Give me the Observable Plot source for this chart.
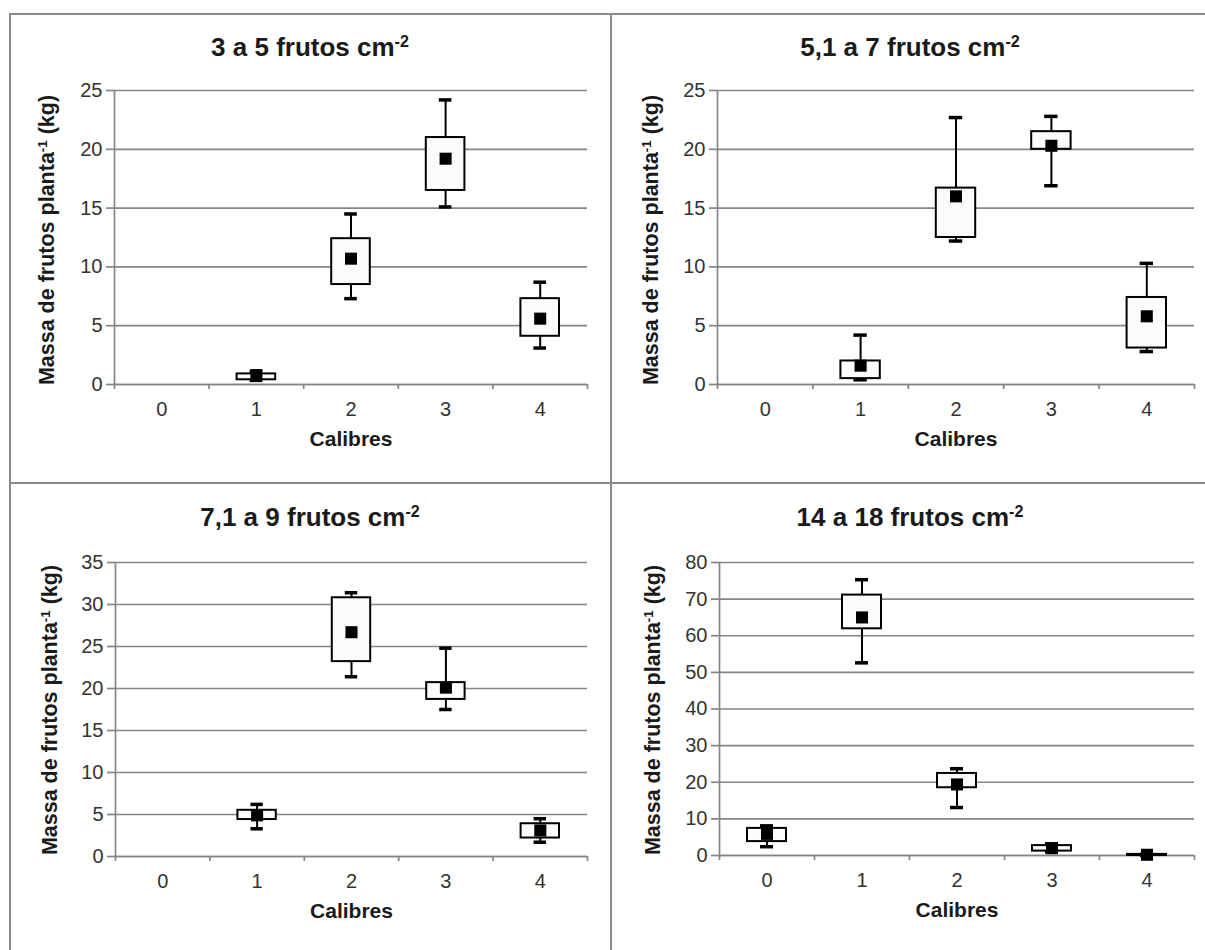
<!DOCTYPE html>
<html>
<head>
<meta charset="utf-8">
<script src="https://cdn.jsdelivr.net/npm/d3@7"></script>
<script src="https://cdn.jsdelivr.net/npm/@observablehq/plot@0.6"></script>
<style>
  html, body { margin: 0; padding: 0; background: #fff; }
  #wrap { position: relative; width: 1205px; height: 950px; overflow: hidden; font-family: "Liberation Sans", Arial, sans-serif; }
  .line { position: absolute; background: #8a8a8a; }
  .panel { position: absolute; }
  .title { position: absolute; font-weight: bold; font-size: 26px; line-height: 30px; color: #1a1a1a; white-space: nowrap; transform: translateX(-50%); }
  .title sup, .ylab sup { font-size: 0.62em; vertical-align: 0; position: relative; top: -0.55em; }
  .ylab { position: absolute; font-weight: bold; font-size: 21.5px; color: #1a1a1a; white-space: nowrap; transform: translate(-50%, -50%) rotate(-90deg); }
</style>
</head>
<body>
<div id="wrap"></div>
<script>
// ---- data ----
const calibres = [0, 1, 2, 3, 4];

const titles = ["3 a 5 frutos cm", "5,1 a 7 frutos cm", "7,1 a 9 frutos cm", "14 a 18 frutos cm"];
const titleExp = "-2";
const yLabel = "Massa de frutos planta";
const yLabelExp = "-1";
const yLabelUnit = " (kg)";
const xLabel = "Calibres";
const yMaxes = [25, 25, 35, 80];
const yStep = [5, 5, 5, 10];

// panel 1: 3 a 5 frutos
const p1Min  = [null, 0.35, 7.3, 15.1, 3.1];
const p1Q1   = [null, 0.4, 8.5, 16.5, 4.1];
const p1Q3   = [null, 0.9, 12.4, 21.0, 7.3];
const p1Max  = [null, 1.1, 14.5, 24.2, 8.7];
const p1Mean = [null, 0.8, 10.7, 19.2, 5.6];

// panel 2: 5,1 a 7 frutos
const p2Min  = [null, 0.4, 12.2, 16.9, 2.8];
const p2Q1   = [null, 0.5, 12.5, 20.0, 3.1];
const p2Q3   = [null, 2.0, 16.7, 21.5, 7.4];
const p2Max  = [null, 4.2, 22.7, 22.8, 10.3];
const p2Mean = [null, 1.6, 16.0, 20.3, 5.8];

// panel 3: 7,1 a 9 frutos
const p3Min  = [null, 3.3, 21.4, 17.5, 1.7];
const p3Q1   = [null, 4.4, 23.2, 18.7, 2.2];
const p3Q3   = [null, 5.5, 30.8, 20.7, 3.9];
const p3Max  = [null, 6.2, 31.4, 24.8, 4.5];
const p3Mean = [null, 4.9, 26.7, 20.1, 3.1];

// panel 4: 14 a 18 frutos
const p4Min  = [2.4, 52.6, 13.1, 1.0, 0.0];
const p4Q1   = [3.8, 61.9, 18.5, 1.2, 0.0];
const p4Q3   = [7.4, 71.1, 22.4, 2.7, 0.3];
const p4Max  = [8.1, 75.3, 23.7, 3.2, 0.3];
const p4Mean = [5.9, 65.0, 19.4, 2.0, 0.2];

const series = [
  [p1Min, p1Q1, p1Q3, p1Max, p1Mean],
  [p2Min, p2Q1, p2Q3, p2Max, p2Mean],
  [p3Min, p3Q1, p3Q3, p3Max, p3Mean],
  [p4Min, p4Q1, p4Q3, p4Max, p4Mean]
];

// ---- layout (pixels) ----
const layout = [
  {left: 10,  top: 14,  width: 600, height: 468, ml: 104, mr: 23, mt: 76, mb: 98, tx: 310, ty: 32, yx: 47, yy: 240},
  {left: 612, top: 14,  width: 593, height: 468, ml: 105, mr: 11, mt: 76, mb: 98, tx: 910, ty: 32, yx: 651, yy: 240},
  {left: 10,  top: 484, width: 600, height: 466, ml: 105, mr: 23, mt: 78, mb: 94, tx: 310, ty: 502, yx: 50, yy: 710},
  {left: 612, top: 484, width: 593, height: 466, ml: 107, mr: 11, mt: 78, mb: 95, tx: 910, ty: 502, yx: 653, yy: 710}
];

const wrap = document.getElementById("wrap");

function addLine(l, t, w, h) {
  const d = document.createElement("div");
  d.className = "line";
  Object.assign(d.style, {left: l + "px", top: t + "px", width: w + "px", height: h + "px"});
  wrap.appendChild(d);
}
addLine(9, 13, 1196, 2);
addLine(9, 13, 2, 937);
addLine(610, 13, 2, 937);
addLine(9, 482, 1196, 2);

const grey = "#858585";
const half = 0.5;

series.forEach((s, k) => {
  const [mn, q1, q3, mx, me] = s;
  const rows = calibres.map((c, i) => ({cal: c, min: mn[i], q1: q1[i], q3: q3[i], max: mx[i], mean: me[i]}))
    .filter(d => d.mean != null);
  const L = layout[k];
  const yTicks = d3.range(0, yMaxes[k] + 1e-9, yStep[k]);
  const bounds = [calibres[0] - half, ...calibres.map(c => c + half)];

  const chart = Plot.plot({
    width: L.width,
    height: L.height,
    marginLeft: L.ml,
    marginRight: L.mr,
    marginTop: L.mt,
    marginBottom: L.mb,
    style: {fontFamily: "Liberation Sans, Arial, sans-serif", fontSize: "20px", color: "#333", background: "transparent", overflow: "visible"},
    x: {domain: [bounds[0], bounds[bounds.length - 1]]},
    y: {domain: [0, yMaxes[k]]},
    marks: [
      Plot.gridY(yTicks, {stroke: grey, strokeOpacity: 1, strokeWidth: 1.7}),
      Plot.axisY(yTicks, {tickSize: 8, tickPadding: 4, stroke: grey, strokeWidth: 1.7, label: null, tickFormat: d3.format("d")}),
      Plot.ruleX([bounds[0]], {stroke: grey, strokeWidth: 1.7}),
      Plot.ruleY([0], {stroke: grey, strokeWidth: 1.7}),
      Plot.axisX(bounds, {tickSize: 5, tickFormat: () => "", stroke: grey, strokeWidth: 1.7, label: null}),
      Plot.axisX(calibres, {tickSize: 0, tickPadding: 17, label: null, tickFormat: d3.format("d")}),
      Plot.text([xLabel], {frameAnchor: "bottom", dy: 61, fontWeight: "bold", fill: "#1a1a1a", fontSize: 21}),
      // whiskers
      Plot.ruleX(rows, {x: "cal", y1: "min", y2: "q1", stroke: "#000", strokeWidth: 2}),
      Plot.ruleX(rows, {x: "cal", y1: "q3", y2: "max", stroke: "#000", strokeWidth: 2}),
      // boxes
      Plot.rectY(rows, {x1: d => d.cal - half, x2: d => d.cal + half, y1: "q1", y2: "q3", insetLeft: 28, insetRight: 28, fill: "#fbfbfb", stroke: "#000", strokeWidth: 2}),
      // caps
      Plot.ruleY(rows, {y: "min", x1: d => d.cal - half, x2: d => d.cal + half, insetLeft: 41, insetRight: 41, stroke: "#000", strokeWidth: 3.5}),
      Plot.ruleY(rows, {y: "max", x1: d => d.cal - half, x2: d => d.cal + half, insetLeft: 41, insetRight: 41, stroke: "#000", strokeWidth: 3.5}),
      // means
      Plot.dot(rows, {x: "cal", y: "mean", symbol: "square", r: 6.8, fill: "#000", stroke: "none"})
    ]
  });
  const holder = document.createElement("div");
  holder.className = "panel";
  Object.assign(holder.style, {left: L.left + "px", top: L.top + "px"});
  holder.appendChild(chart);
  wrap.appendChild(holder);

  const t = document.createElement("div");
  t.className = "title";
  Object.assign(t.style, {left: L.tx + "px", top: L.ty + "px"});
  t.innerHTML = titles[k] + "<sup>" + titleExp + "</sup>";
  wrap.appendChild(t);

  const yl = document.createElement("div");
  yl.className = "ylab";
  Object.assign(yl.style, {left: L.yx + "px", top: L.yy + "px"});
  yl.innerHTML = yLabel + "<sup>" + yLabelExp + "</sup>" + yLabelUnit;
  wrap.appendChild(yl);
});
</script>
</body>
</html>
